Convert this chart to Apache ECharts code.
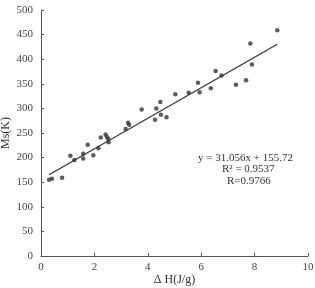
<!DOCTYPE html>
<html><head><meta charset="utf-8">
<script src="https://cdn.jsdelivr.net/npm/echarts@6/dist/echarts.min.js"></script>
<style>html,body{margin:0;padding:0;background:#fff}#c{width:315px;height:288px}</style>
</head><body><div id="c"></div>
<script>
const xVals = [0.30,0.41,0.79,1.10,1.25,1.58,1.58,1.75,1.96,2.15,2.24,2.42,2.47,2.52,2.53,3.17,3.26,3.30,3.77,4.27,4.32,4.47,4.49,4.70,5.03,5.53,5.88,5.94,6.36,6.54,6.76,7.30,7.68,7.84,7.90,8.85];
const yVals = [155,157,159,204,195,208,198,226,205,219,241,247,242,238,231,258,271,267,298,277,300,313,287,282,329,332,352,333,341,376,367,348,357,432,389,459];
const fitSlope = 31.056, fitIntercept = 155.72;
const fitRange = [0.30, 8.85];
const xTicks = [0,2,4,6,8,10];
const yTicks = [0,50,100,150,200,250,300,350,400,450,500];
const annot = ['y = 31.056x + 155.72', 'R² = 0.9537', 'R=0.9766'];

const pts = xVals.map((x,i)=>[x,yVals[i]]);
const fitLine = fitRange.map(x=>[x, fitSlope*x+fitIntercept]);
const font = '"Liberation Serif", "Times New Roman", serif';
const axColor = '#555';
const chart = echarts.init(document.getElementById('c'));
chart.setOption({
  animation:false,
  grid:{left:41, right:7, top:10, bottom:32, containLabel:false, outerBoundsMode:'none'},
  xAxis:{type:'value', min:0, max:10, interval:2,
    name:'Δ H(J/g)', nameLocation:'middle', nameGap:18, nameMoveOverlap:false,
    nameTextStyle:{fontFamily:font, fontSize:12, color:'#333'},
    axisLine:{lineStyle:{color:axColor, width:1}},
    axisTick:{inside:true, length:3, lineStyle:{color:axColor}},
    axisLabel:{fontFamily:font, fontSize:11, color:'#444', margin:6},
    splitLine:{show:false}},
  yAxis:{type:'value', min:0, max:500, interval:50,
    name:'Ms(K)', nameLocation:'middle', nameGap:29, nameMoveOverlap:false,
    nameTextStyle:{fontFamily:font, fontSize:12, color:'#333'},
    axisLine:{show:true, lineStyle:{color:axColor, width:1}},
    axisTick:{show:true, inside:true, length:3, lineStyle:{color:axColor}},
    axisLabel:{fontFamily:font, fontSize:11, color:'#444', margin:8},
    splitLine:{show:false}},
  series:[
    {type:'line', data:fitLine, symbol:'none', lineStyle:{color:'#333', width:1.2}, z:1},
    {type:'scatter', data:pts, symbol:'circle', symbolSize:4.5, itemStyle:{color:'#333'}, z:2}
  ],
  graphic:[
    {type:'text', left:198, top:153, style:{text:annot[0], font:'11px '+font, fill:'#333'}},
    {type:'text', left:222, top:164, style:{text:annot[1], font:'11px '+font, fill:'#333'}},
    {type:'text', left:227, top:176, style:{text:annot[2], font:'11px '+font, fill:'#333'}}
  ]
});
</script></body></html>
